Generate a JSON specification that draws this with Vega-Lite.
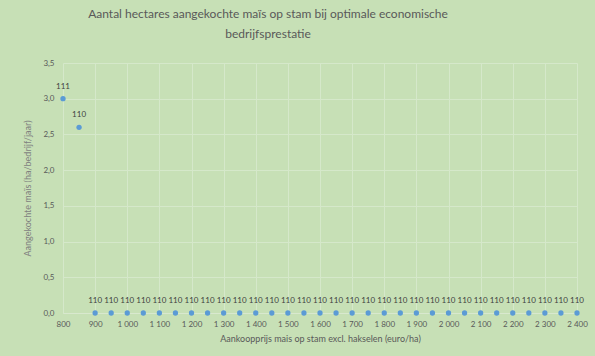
{
  "$schema": "https://vega.github.io/schema/vega-lite/v6.json",
  "autosize": {"type": "none"},
  "width": 514,
  "height": 250,
  "padding": {"left": 63, "top": 63, "right": 18, "bottom": 43},
  "background": "#c7e0b6",
  "config": {"view": {"stroke": null}, "font": "Lato"},
  "title": {
    "text": ["Aantal hectares aangekochte maïs op stam bij optimale economische", "bedrijfsprestatie"],
    "fontSize": 12,
    "fontWeight": "normal",
    "color": "#595959",
    "font": "Lato",
    "anchor": "middle",
    "dx": -52,
    "offset": 18,
    "lineHeight": 20
  },
  "data": {
    "values": [
      {"prijs": 800, "ha": 3.0, "label": "111"},
      {"prijs": 850, "ha": 2.6, "label": "110"},
      {"prijs": 900, "ha": 0, "label": "110"},
      {"prijs": 950, "ha": 0, "label": "110"},
      {"prijs": 1000, "ha": 0, "label": "110"},
      {"prijs": 1050, "ha": 0, "label": "110"},
      {"prijs": 1100, "ha": 0, "label": "110"},
      {"prijs": 1150, "ha": 0, "label": "110"},
      {"prijs": 1200, "ha": 0, "label": "110"},
      {"prijs": 1250, "ha": 0, "label": "110"},
      {"prijs": 1300, "ha": 0, "label": "110"},
      {"prijs": 1350, "ha": 0, "label": "110"},
      {"prijs": 1400, "ha": 0, "label": "110"},
      {"prijs": 1450, "ha": 0, "label": "110"},
      {"prijs": 1500, "ha": 0, "label": "110"},
      {"prijs": 1550, "ha": 0, "label": "110"},
      {"prijs": 1600, "ha": 0, "label": "110"},
      {"prijs": 1650, "ha": 0, "label": "110"},
      {"prijs": 1700, "ha": 0, "label": "110"},
      {"prijs": 1750, "ha": 0, "label": "110"},
      {"prijs": 1800, "ha": 0, "label": "110"},
      {"prijs": 1850, "ha": 0, "label": "110"},
      {"prijs": 1900, "ha": 0, "label": "110"},
      {"prijs": 1950, "ha": 0, "label": "110"},
      {"prijs": 2000, "ha": 0, "label": "110"},
      {"prijs": 2050, "ha": 0, "label": "110"},
      {"prijs": 2100, "ha": 0, "label": "110"},
      {"prijs": 2150, "ha": 0, "label": "110"},
      {"prijs": 2200, "ha": 0, "label": "110"},
      {"prijs": 2250, "ha": 0, "label": "110"},
      {"prijs": 2300, "ha": 0, "label": "110"},
      {"prijs": 2350, "ha": 0, "label": "110"},
      {"prijs": 2400, "ha": 0, "label": "110"}
    ]
  },
  "encoding": {
    "x": {
      "field": "prijs",
      "type": "quantitative",
      "scale": {"domain": [800, 2400], "nice": false, "zero": false},
      "axis": {
        "title": "Aankoopprijs mais op stam excl. hakselen (euro/ha)",
        "values": [800, 900, 1000, 1100, 1200, 1300, 1400, 1500, 1600, 1700, 1800, 1900, 2000, 2100, 2200, 2300, 2400],
        "labelExpr": "replace(format(datum.value, ','), ',', ' ')",
        "labelFlush": false,
        "labelOverlap": false,
        "labelBound": false,
        "labelFont": "Lato",
        "labelFontSize": 8,
        "labelColor": "#595959",
        "labelPadding": 7,
        "ticks": false,
        "domain": true,
        "domainColor": "#d8e8ce",
        "grid": true,
        "gridColor": "#d5e8ca",
        "titleFont": "Lato",
        "titleFontSize": 9,
        "titleFontWeight": "normal",
        "titleColor": "#595959",
        "titlePadding": 6
      }
    },
    "y": {
      "field": "ha",
      "type": "quantitative",
      "scale": {"domain": [0, 3.5], "nice": false},
      "axis": {
        "title": "Aangekochte maïs (ha/bedrijf/jaar)",
        "values": [0, 0.5, 1, 1.5, 2, 2.5, 3, 3.5],
        "labelExpr": "replace(format(datum.value, '.1f'), '.', ',')",
        "labelFont": "Lato",
        "labelFontSize": 8,
        "labelColor": "#595959",
        "labelPadding": 9,
        "ticks": false,
        "domain": false,
        "grid": true,
        "gridColor": "#d5e8ca",
        "titleFont": "Lato",
        "titleFontSize": 9,
        "titleFontWeight": "normal",
        "titleColor": "#7f7f7f",
        "titlePadding": 10
      }
    }
  },
  "layer": [
    {
      "mark": {"type": "circle", "size": 28, "color": "#5b9bd5", "opacity": 1}
    },
    {
      "mark": {"type": "text", "dy": -12, "fontSize": 8, "font": "Lato", "color": "#404040"},
      "encoding": {"text": {"field": "label"}}
    }
  ]
}
